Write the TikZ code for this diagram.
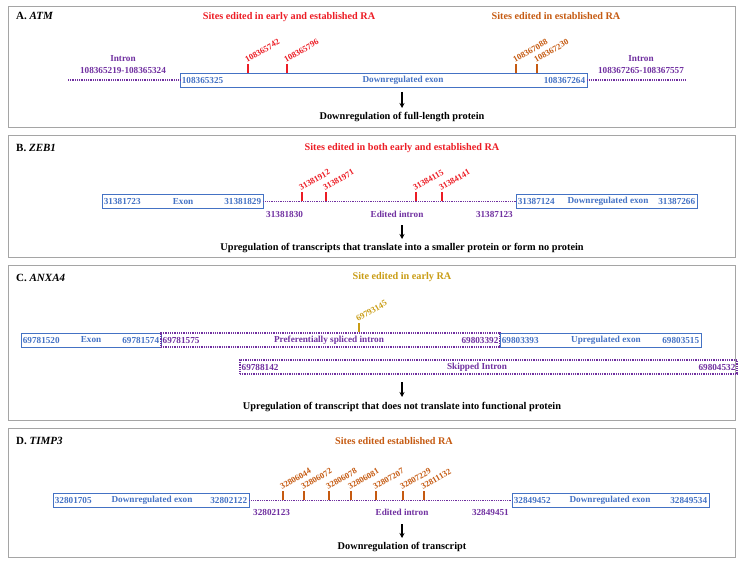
\documentclass[tikz,border=0pt]{standalone}
\usepackage{fontspec}
\setmainfont{Liberation Serif}
\usepackage{tikz}
\usetikzlibrary{arrows.meta, positioning, calc}

\definecolor{exonblue}{RGB}{68,114,196}
\definecolor{intronpurple}{RGB}{112,48,160}
\definecolor{sitered}{RGB}{236,28,36}
\definecolor{siteorange}{RGB}{197,90,17}
\definecolor{sitegold}{RGB}{201,156,20}
\definecolor{framegray}{RGB}{165,165,165}

\tikzset{
    panel/.style={draw=framegray, line width=0.9pt},
    exon/.style={draw=exonblue, line width=0.7pt, minimum height=14pt, inner sep=0pt},
    intronbox/.style={draw=intronpurple, line width=1.1pt, dash pattern=on 0.9pt off 0.9pt, minimum height=14pt, inner sep=0pt},
    intronline/.style={intronpurple, line width=1.1pt, dash pattern=on 0.9pt off 0.9pt},
    coordtext/.style={font=\bfseries\fontsize{9.2}{12}\selectfont, inner sep=2pt},
    title/.style={font=\bfseries\fontsize{11}{13}\selectfont, anchor=west, inner sep=2pt},
    head/.style={font=\bfseries\fontsize{10.2}{12}\selectfont, inner sep=1pt},
    result/.style={font=\bfseries\fontsize{10.3}{12}\selectfont, inner sep=1pt},
    site/.style={font=\bfseries\fontsize{8.5}{10}\selectfont, rotate=30, anchor=south west, inner sep=0.6pt, xshift=-1.5pt},
    sitetick/.style={line width=1.6pt},
    arr/.style={line width=1.2pt, -{Stealth[length=5pt, width=5pt]}}
}

\begin{document}
\begin{tikzpicture}[x=1pt, y=-1pt]
    \useasboundingbox (0,0) rectangle (746,564);

    % ---------------- Panel A: ATM ----------------
    \draw[panel] (8,6) rectangle (735,127);
    \node[title] (tA) at (14,16) {A. \textit{ATM}};
    \node[head, text=sitered] (hA1) at (289,17) {Sites edited in early and established RA};
    \node[head, text=siteorange] (hA2) at (556,16) {Sites edited in established RA};

    % exon and flanking introns
    \node[exon, minimum width=407pt] (exA) at (383.5,80) {};
    \coordinate (lA1) at (68,80);
    \coordinate (lA2) at (686,80);
    \draw[intronline] (lA1) -- (exA.west);
    \draw[intronline] (exA.east) -- (lA2);
    \node[coordtext, text=intronpurple, align=center] (inA1) at (123,65) {Intron\\108365219-108365324};
    \node[coordtext, text=intronpurple, align=center] (inA2) at (641,65) {Intron\\108367265-108367557};
    \node[coordtext, text=exonblue, anchor=west] (pA1) at (exA.west) {108365325};
    \node[coordtext, text=exonblue] (pA2) at (403,80) {Downregulated exon};
    \node[coordtext, text=exonblue, anchor=east] (pA3) at (exA.east) {108367264};

    % edited sites
    \draw[sitetick, sitered] (248,73) -- (248,64) node[site, text=sitered] (sA1) {108365742};
    \draw[sitetick, sitered] (287,73) -- (287,64) node[site, text=sitered] (sA2) {108365796};
    \draw[sitetick, siteorange] (516,73) -- (516,64) node[site, text=siteorange] (sA3) {108367088};
    \draw[sitetick, siteorange] (537,73) -- (537,64) node[site, text=siteorange] (sA4) {108367230};

    % outcome
    \coordinate (aA1) at (402,92);
    \coordinate (aA2) at (402,108);
    \draw[arr] (aA1) -- (aA2);
    \node[result] (rA) at (402,117) {Downregulation of full-length protein};

    % ---------------- Panel B: ZEB1 ----------------
    \draw[panel] (8,135) rectangle (735,257);
    \node[title] (tB) at (14,148) {B. \textit{ZEB1}};
    \node[head, text=sitered] (hB) at (402,148) {Sites edited in both early and established RA};

    \node[exon, minimum width=161pt] (exB1) at (182.5,201.5) {};
    \node[exon, minimum width=181pt] (exB2) at (606.5,201.5) {};
    \draw[intronline] (exB1.east) -- (exB2.west);
    \node[coordtext, text=exonblue, anchor=west] (pB1) at (exB1.west) {31381723};
    \node[coordtext, text=exonblue] (pB2) at (183,201.5) {Exon};
    \node[coordtext, text=exonblue, anchor=east] (pB3) at (exB1.east) {31381829};
    \node[coordtext, text=exonblue, anchor=west] (pB4) at (exB2.west) {31387124};
    \node[coordtext, text=exonblue] (pB5) at (608,201.5) {Downregulated exon};
    \node[coordtext, text=exonblue, anchor=east] (pB6) at (exB2.east) {31387266};
    \node[coordtext, text=intronpurple, anchor=west] (iB1) at (264,214) {31381830};
    \node[coordtext, text=intronpurple] (iB2) at (397,214) {Edited intron};
    \node[coordtext, text=intronpurple, anchor=east] (iB3) at (515,214) {31387123};

    \draw[sitetick, sitered] (302,201) -- (302,192) node[site, text=sitered] (sB1) {31381912};
    \draw[sitetick, sitered] (326,201) -- (326,192) node[site, text=sitered] (sB2) {31381971};
    \draw[sitetick, sitered] (416,201) -- (416,192) node[site, text=sitered] (sB3) {31384115};
    \draw[sitetick, sitered] (442,201) -- (442,192) node[site, text=sitered] (sB4) {31384141};

    \coordinate (aB1) at (402,225);
    \coordinate (aB2) at (402,239);
    \draw[arr] (aB1) -- (aB2);
    \node[result] (rB) at (402,248) {Upregulation of transcripts that translate into a smaller protein or form no protein};

    % ---------------- Panel C: ANXA4 ----------------
    \draw[panel] (8,265) rectangle (735,420);
    \node[title] (tC) at (14,278) {C. \textit{ANXA4}};
    \node[head, text=sitegold] (hC) at (402,277) {Site edited in early RA};

    \node[exon, minimum width=140pt] (exC1) at (91,340) {};
    \node[intronbox, minimum width=339pt] (inC1) at (330.5,340) {};
    \node[exon, minimum width=201pt] (exC2) at (600.5,340) {};
    \node[intronbox, minimum width=497pt] (inC2) at (488.5,367) {};
    \node[coordtext, text=exonblue, anchor=west] (pC1) at (exC1.west) {69781520};
    \node[coordtext, text=exonblue] (pC2) at (91,340) {Exon};
    \node[coordtext, text=exonblue, anchor=east] (pC3) at (exC1.east) {69781574};
    \node[coordtext, text=intronpurple, anchor=west] (iC1) at (inC1.west) {69781575};
    \node[coordtext, text=intronpurple] (iC2) at (329,340) {Preferentially spliced intron};
    \node[coordtext, text=intronpurple, anchor=east] (iC3) at (inC1.east) {69803392};
    \node[coordtext, text=exonblue, anchor=west] (pC4) at (exC2.west) {69803393};
    \node[coordtext, text=exonblue] (pC5) at (606,340) {Upregulated exon};
    \node[coordtext, text=exonblue, anchor=east] (pC6) at (exC2.east) {69803515};
    \node[coordtext, text=intronpurple, anchor=west] (iC4) at (inC2.west) {69788142};
    \node[coordtext, text=intronpurple] (iC5) at (477,367) {Skipped Intron};
    \node[coordtext, text=intronpurple, anchor=east] (iC6) at (inC2.east) {69804532};

    \draw[sitetick, sitegold] (359,332) -- (359,323) node[site, text=sitegold] (sC1) {69793145};

    \coordinate (aC1) at (402,382);
    \coordinate (aC2) at (402,397);
    \draw[arr] (aC1) -- (aC2);
    \node[result] (rC) at (402,407) {Upregulation of transcript that does not translate into functional protein};

    % ---------------- Panel D: TIMP3 ----------------
    \draw[panel] (8,428) rectangle (735,557);
    \node[title] (tD) at (14,441) {D. \textit{TIMP3}};
    \node[head, text=siteorange] (hD) at (394,441) {Sites edited established RA};

    \node[exon, minimum width=196pt] (exD1) at (151,500.5) {};
    \node[exon, minimum width=197pt] (exD2) at (610.5,500.5) {};
    \draw[intronline] (exD1.east) -- (exD2.west);
    \node[coordtext, text=exonblue, anchor=west] (pD1) at (exD1.west) {32801705};
    \node[coordtext, text=exonblue] (pD2) at (152,500.5) {Downregulated exon};
    \node[coordtext, text=exonblue, anchor=east] (pD3) at (exD1.east) {32802122};
    \node[coordtext, text=exonblue, anchor=west] (pD4) at (exD2.west) {32849452};
    \node[coordtext, text=exonblue] (pD5) at (610,500.5) {Downregulated exon};
    \node[coordtext, text=exonblue, anchor=east] (pD6) at (exD2.east) {32849534};
    \node[coordtext, text=intronpurple, anchor=west] (iD1) at (251,512) {32802123};
    \node[coordtext, text=intronpurple] (iD2) at (402,512) {Edited intron};
    \node[coordtext, text=intronpurple, anchor=east] (iD3) at (511,512) {32849451};

    \draw[sitetick, siteorange] (283,500) -- (283,491) node[site, text=siteorange] (sD1) {32806044};
    \draw[sitetick, siteorange] (304,500) -- (304,491) node[site, text=siteorange] (sD2) {32806072};
    \draw[sitetick, siteorange] (329,500) -- (329,491) node[site, text=siteorange] (sD3) {32806078};
    \draw[sitetick, siteorange] (351,500) -- (351,491) node[site, text=siteorange] (sD4) {32806081};
    \draw[sitetick, siteorange] (376,500) -- (376,491) node[site, text=siteorange] (sD5) {32807207};
    \draw[sitetick, siteorange] (403,500) -- (403,491) node[site, text=siteorange] (sD6) {32807229};
    \draw[sitetick, siteorange] (424,500) -- (424,491) node[site, text=siteorange] (sD7) {32811132};

    \coordinate (aD1) at (402,524);
    \coordinate (aD2) at (402,538);
    \draw[arr] (aD1) -- (aD2);
    \node[result] (rD) at (402,547) {Downregulation of transcript};
\end{tikzpicture}
\end{document}
